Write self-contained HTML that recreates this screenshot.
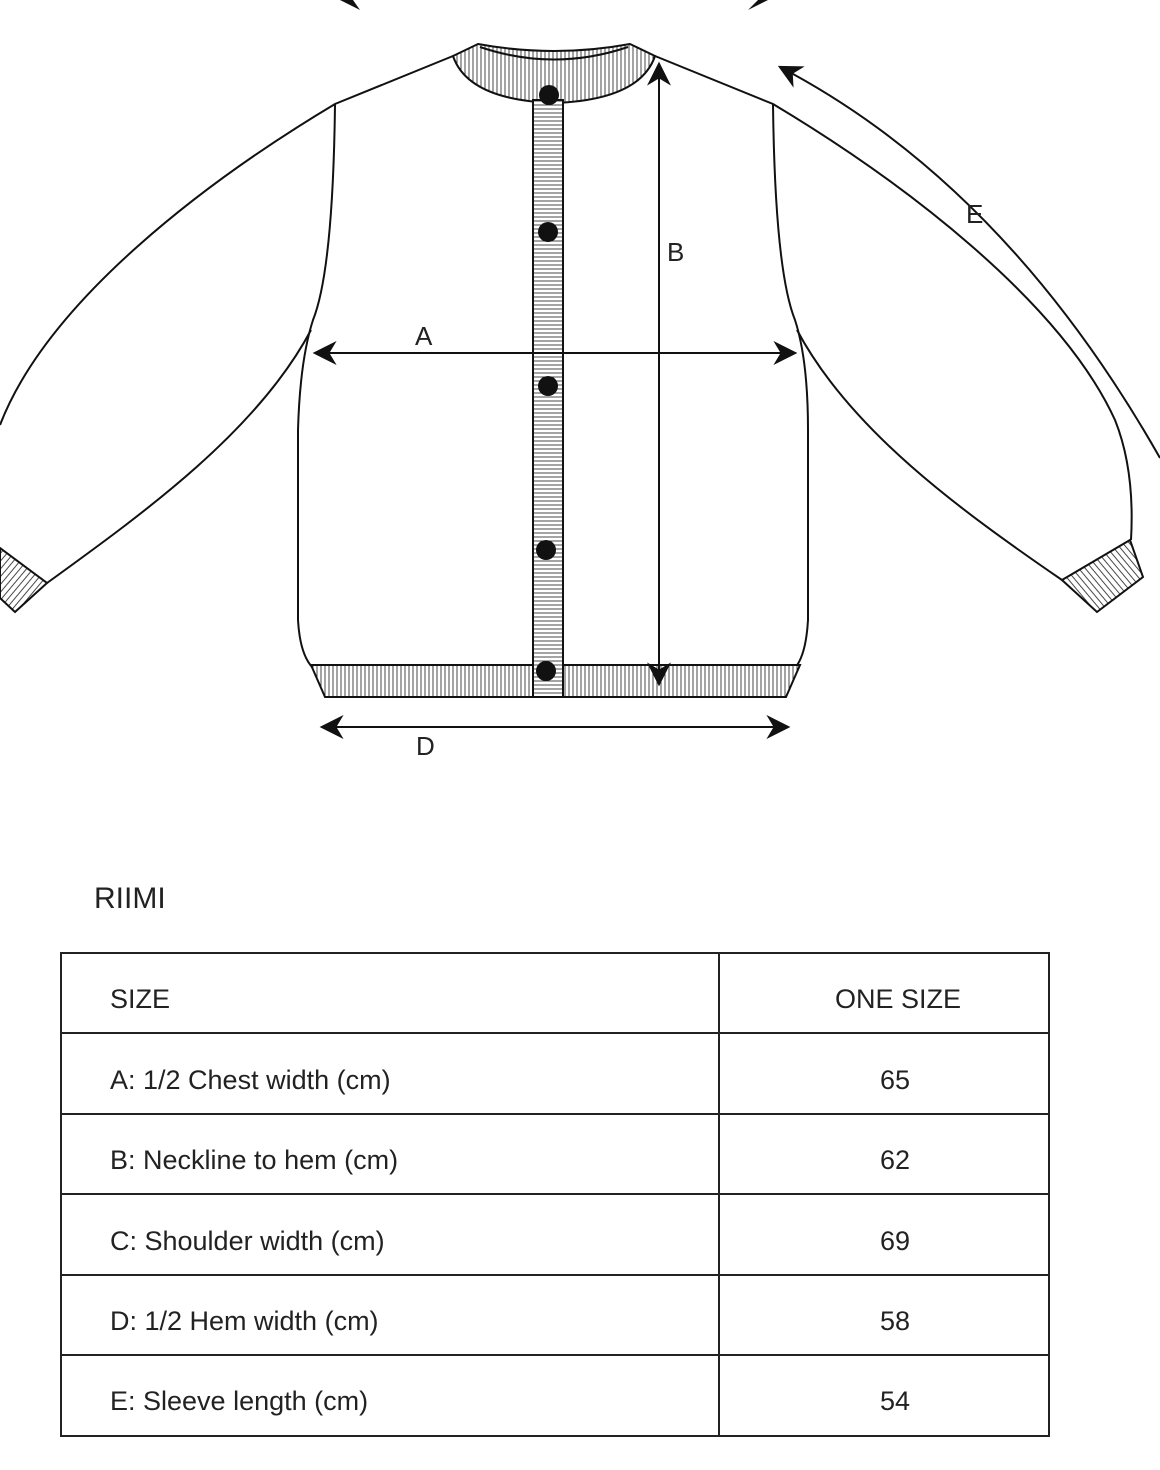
<!DOCTYPE html>
<html><head><style>
body{margin:0;background:#fff;}
svg{display:block}
text{font-family:"Liberation Sans",sans-serif;fill:#222}
</style></head><body>
<svg width="1160" height="1470" viewBox="0 0 1160 1470">
<defs>
<pattern id="v" width="4" height="10" patternUnits="userSpaceOnUse"><rect width="4" height="10" fill="#fff"/><line x1="1" y1="0" x2="1" y2="10" stroke="#333" stroke-width="0.9"/></pattern>
<pattern id="h" width="10" height="4" patternUnits="userSpaceOnUse"><rect width="10" height="4" fill="#fff"/><line x1="0" y1="1" x2="10" y2="1" stroke="#333" stroke-width="0.9"/></pattern>
<pattern id="d" width="5" height="5" patternUnits="userSpaceOnUse" patternTransform="rotate(40)"><rect width="5" height="5" fill="#fff"/><line x1="1" y1="0" x2="1" y2="5" stroke="#333" stroke-width="0.9"/></pattern>
<pattern id="d2" width="5" height="5" patternUnits="userSpaceOnUse" patternTransform="rotate(-40)"><rect width="5" height="5" fill="#fff"/><line x1="1" y1="0" x2="1" y2="5" stroke="#333" stroke-width="0.9"/></pattern>
<marker id="ar" viewBox="0 0 10 10" refX="9" refY="5" markerWidth="24" markerHeight="24" markerUnits="userSpaceOnUse" orient="auto-start-reverse"><path d="M0,0 L10,5 L0,10 L3,5Z" fill="#111"/></marker>
</defs>
<g fill="none" stroke="#111" stroke-width="2">
<path d="M453,56 L478,44 Q554,58 630,44 L655,56 Q640,100 554,103 Q468,100 453,56Z" fill="url(#v)"/>
<path d="M480,47 Q554,72 628,47" />
<path d="M453,56 L335,104 C208,180 48,300 0,425"/>
<path d="M655,56 L773,104 C900,180 1060,300 1115,420 Q1135,470 1131,540"/>
<path d="M335,104 Q333,270 313,320 Q300,360 298,430 L298,620 Q300,655 313,668"/>
<path d="M773,104 Q775,270 795,320 Q808,360 808,430 L808,620 Q806,655 795,668"/>
<path d="M311,665 L800,665 L786,697 L325,697Z" fill="url(#v)"/>
<rect x="533" y="100" width="30" height="597" fill="url(#h)"/>
<path d="M311,330 C258,430 148,510 47,583"/>
<path d="M47,583 L15,612 L0,598 L0,548 Z" fill="url(#d)"/>
<path d="M797,330 C850,430 960,510 1062,580"/>
<path d="M1062,580 L1130,540 L1143,577 L1097,612 Z" fill="url(#d2)"/>
</g>
<g fill="#111">
<circle cx="549" cy="95" r="10"/><circle cx="548" cy="232" r="10"/><circle cx="548" cy="386" r="10"/><circle cx="546" cy="550" r="10"/><circle cx="546" cy="671" r="10"/>
<path d="M340,0 L360,10 L353,0Z"/><path d="M768,0 L748,10 L758,0Z"/>
</g>
<g stroke="#111" stroke-width="2" fill="none">
<line x1="315" y1="353" x2="795" y2="353" marker-start="url(#ar)" marker-end="url(#ar)"/>
<line x1="659" y1="64" x2="659" y2="684" marker-start="url(#ar)" marker-end="url(#ar)"/>
<line x1="322" y1="727" x2="788" y2="727" marker-start="url(#ar)" marker-end="url(#ar)"/>
<path d="M780,67 Q1005,185 1160,458" marker-start="url(#ar)"/>
</g>
<g font-size="26">
<text x="415" y="345">A</text><text x="667" y="261">B</text><text x="416" y="755">D</text><text x="966" y="223">E</text>
</g>
<text x="94" y="908" font-size="30">RIIMI</text>
<g stroke="#222" stroke-width="2" fill="none">
<rect x="61" y="953" width="988" height="483"/>
<line x1="719" y1="953" x2="719" y2="1436"/>
<line x1="61" y1="1033" x2="1049" y2="1033"/>
<line x1="61" y1="1114" x2="1049" y2="1114"/>
<line x1="61" y1="1194" x2="1049" y2="1194"/>
<line x1="61" y1="1275" x2="1049" y2="1275"/>
<line x1="61" y1="1355" x2="1049" y2="1355"/>
</g>
<g font-size="27">
<text x="110" y="1008">SIZE</text><text x="898" y="1008" text-anchor="middle">ONE SIZE</text>
<text x="110" y="1089">A: 1/2 Chest width (cm)</text><text x="895" y="1089" text-anchor="middle">65</text>
<text x="110" y="1169">B: Neckline to hem (cm)</text><text x="895" y="1169" text-anchor="middle">62</text>
<text x="110" y="1250">C: Shoulder width (cm)</text><text x="895" y="1250" text-anchor="middle">69</text>
<text x="110" y="1330">D: 1/2 Hem width (cm)</text><text x="895" y="1330" text-anchor="middle">58</text>
<text x="110" y="1410">E: Sleeve length (cm)</text><text x="895" y="1410" text-anchor="middle">54</text>
</g>
</svg>
</body></html>
